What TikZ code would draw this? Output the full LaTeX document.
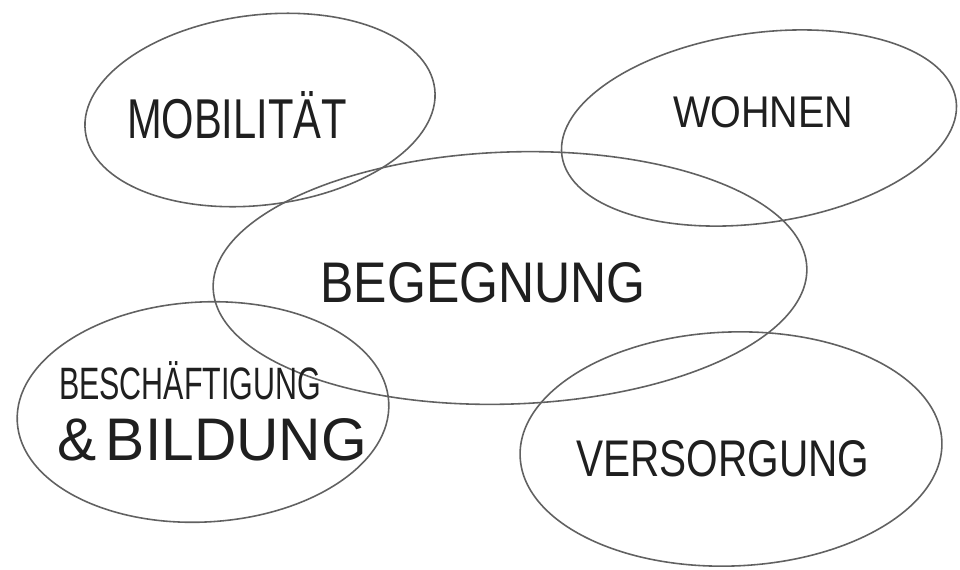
\documentclass[tikz,border=0pt]{standalone}
\usepackage{fontspec}
\setmainfont{Liberation Sans}
\usepackage{graphicx}
\begin{document}
\begin{tikzpicture}[x=0.02cm,y=-0.02cm,
  pencil/.style={draw=black!62, line width=0.9pt},
  word/.style={inner sep=0pt, text=black!88}]
\useasboundingbox[fill=white] (0,0) rectangle (960,569);
% ellipses
\draw[pencil, rotate around={7:(260,110)}] (260,110) ellipse [x radius=176, y radius=95];
\draw[pencil, rotate around={8:(759,128)}] (759,128) ellipse [x radius=199, y radius=95];
\draw[pencil, rotate around={2:(510,278)}] (510,278) ellipse [x radius=297, y radius=126];
\draw[pencil, rotate around={3:(203,412)}] (203,412) ellipse [x radius=186, y radius=110];
\draw[pencil, rotate around={2:(731,449)}] (731,449) ellipse [x radius=211, y radius=117];
% labels
\node[word] (mob) at (237,115) {\resizebox{4.4cm}{0.94cm}{MOBILITÄT}};
\node[word] (woh) at (763,112) {\resizebox{3.6cm}{0.62cm}{WOHNEN}};
\node[word] (beg) at (483,283) {\resizebox{6.5cm}{0.8cm}{BEGEGNUNG}};
\node[word] (bes) at (190,381) {\resizebox{5.24cm}{0.76cm}{BESCHÄFTIGUNG}};
\node[word] (bil) at (212,440) {\resizebox{6.2cm}{0.84cm}{\&\,BILDUNG}};
\node[word] (ver) at (723,459) {\resizebox{5.86cm}{0.72cm}{VERSORGUNG}};
\end{tikzpicture}
\end{document}
